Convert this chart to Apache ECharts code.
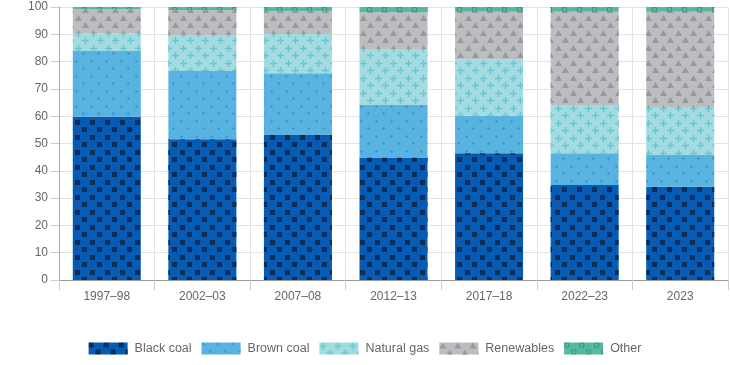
<!DOCTYPE html>
<html>
<head>
<meta charset="utf-8">
<script src="https://cdn.jsdelivr.net/npm/echarts@6/dist/echarts.min.js"></script>
<style>html,body{margin:0;padding:0;background:#fff}#c{width:730px;height:365px}</style>
</head>
<body>
<div id="c"></div>
<script>
const categories = ['1997–98', '2002–03', '2007–08', '2012–13', '2017–18', '2022–23', '2023'];
const blackCoal  = [59.8, 51.6, 53.3, 44.9, 46.4, 34.8, 34.2];
const brownCoal  = [24.1, 25.0, 22.4, 19.2, 13.8, 11.6, 11.6];
const naturalGas = [6.5, 13.1, 14.4, 20.5, 20.6, 17.7, 17.3];
const renewables = [8.9, 9.2, 8.4, 13.5, 17.5, 34.2, 35.2];
const other      = [0.7, 1.1, 1.5, 1.9, 1.7, 1.7, 1.7];
const seriesNames = ['Black coal', 'Brown coal', 'Natural gas', 'Renewables', 'Other'];

const styles = [
  { color: '#065bb5', decal: { symbol: 'rect', color: '#0b2d57', symbolSize: 1, dashArrayX: [[5, 10], [0, 7, 5, 3]], dashArrayY: [5, 2, 5, 3] } },
  { color: '#59b3e0', decal: { symbol: 'circle', color: '#3497cf', symbolSize: 0.8, dashArrayX: [[3, 12], [0, 7, 3, 5]], dashArrayY: [3, 4, 3, 5] } },
  { color: '#a3dbe0', decal: { symbol: 'path://M3.2,0h1.6v3.2h3.2v1.6h-3.2v3.2h-1.6v-3.2h-3.2v-1.6h3.2z', color: '#66c6d1', symbolSize: 1, dashArrayX: [[7, 8], [0, 7, 7, 1]], dashArrayY: [7, 0, 7, 1] } },
  { color: '#bbbdc0', decal: { symbol: 'triangle', color: '#97999c', symbolSize: 1, dashArrayX: [[7, 8], [0, 7, 7, 1]], dashArrayY: [6, 1, 6, 2] } },
  { color: '#56b8a0', decal: { symbol: 'path://M0,0H6V6H0Z M1.2,1.2V4.8H4.8V1.2Z', color: '#3a977f', symbolSize: 1, dashArrayX: [[5, 10], [0, 7, 5, 3]], dashArrayY: [5, 2, 5, 3] } }
];
const values = [blackCoal, brownCoal, naturalGas, renewables, other];

const chart = echarts.init(document.getElementById('c'), null, { renderer: 'canvas' });
const font = 'Liberation Sans, Arial, sans-serif';
chart.setOption({
  animation: false,
  textStyle: { fontFamily: font },
  grid: { left: 59, right: 2, top: 7, bottom: 85 },
  legend: {
    top: 337,
    left: 'center',
    icon: 'rect',
    itemWidth: 39,
    itemHeight: 12,
    itemGap: 10,
    textStyle: { color: '#666', fontSize: 12.5, fontFamily: font, padding: [0, 0, 0, 2] },
    data: seriesNames
  },
  xAxis: {
    type: 'category',
    data: categories,
    axisLine: { lineStyle: { color: '#999' } },
    axisTick: { show: true, length: 10, lineStyle: { color: '#ccc' } },
    splitLine: { show: true, lineStyle: { color: '#e3e3e3' } },
    axisLabel: { color: '#666', fontSize: 12, margin: 11 }
  },
  yAxis: {
    type: 'value',
    min: 0, max: 100, interval: 10,
    axisLine: { show: true, lineStyle: { color: '#aaa' } },
    axisTick: { show: true, length: 8, lineStyle: { color: '#ccc' } },
    splitLine: { show: true, lineStyle: { color: '#e3e3e3' } },
    axisLabel: { color: '#666', fontSize: 12, margin: 11 }
  },
  series: seriesNames.map((n, i) => ({
    name: n,
    type: 'bar',
    stack: 'total',
    barWidth: 68,
    data: values[i],
    itemStyle: { color: styles[i].color, decal: styles[i].decal }
  }))
});
</script>
</body>
</html>
